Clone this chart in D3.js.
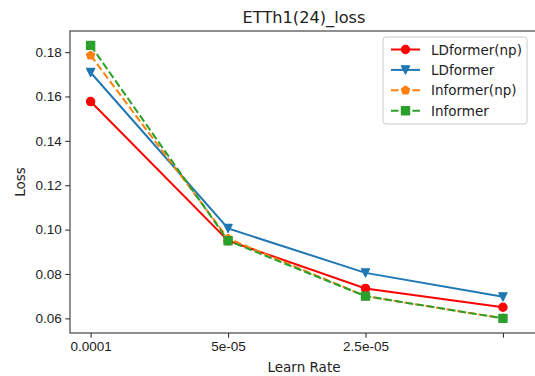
<!DOCTYPE html>
<html>
<head>
<meta charset="utf-8">
<script src="https://cdn.jsdelivr.net/npm/d3@7"></script>
<style>
  body { margin: 0; background: #fff; }
  svg { font-family: "DejaVu Sans", sans-serif; }
</style>
</head>
<body>
<svg id="chart" width="535" height="376"></svg>
<script>
// chart data
var learnRates = ["0.0001", "5e-05", "2.5e-05", ""];
var seriesNames = ["LDformer(np)", "LDformer", "Informer(np)", "Informer"];
var ldformerNp = [0.1577, 0.0950, 0.0735, 0.0650];
var ldformer = [0.1708, 0.1005, 0.0805, 0.0697];
var informerNp = [0.1785, 0.0960, 0.0700, 0.0600];
var informer = [0.1830, 0.0950, 0.0700, 0.0600];
var yTicks = [0.06, 0.08, 0.10, 0.12, 0.14, 0.16, 0.18];

var series = [
  {name: seriesNames[0], values: ldformerNp, color: "#ff0000", dash: null, marker: "circle"},
  {name: seriesNames[1], values: ldformer, color: "#1f77b4", dash: null, marker: "triangleDown"},
  {name: seriesNames[2], values: informerNp, color: "#ff7f0e", dash: "7.5,3.2", marker: "pentagon"},
  {name: seriesNames[3], values: informer, color: "#2ca02c", dash: "7.5,3.2", marker: "square"}
];

var svg = d3.select("#chart");
var plotLeft = 70, plotTop = 31, plotRight = 538, plotBottom = 333;
var fontSize = "13.5px";

// x positions are category indices with matplotlib-like margins
var x = d3.scaleLinear().domain([-0.15, 3.255]).range([plotLeft, plotRight]);
var y = d3.scaleLinear().domain([0.0534, 0.1895]).range([plotBottom, plotTop]);

// marker shapes, ~8px base plus a thin edge stroke like matplotlib
function markerPath(type) {
  var r = 4.05;
  if (type === "circle") return d3.symbol(d3.symbolCircle, Math.PI * r * r)();
  if (type === "square") return d3.symbol(d3.symbolSquare, 4 * r * r)();
  if (type === "triangleDown") return "M" + (-r) + "," + (-r) + "L" + r + "," + (-r) + "L0," + r + "Z";
  // pentagon
  var pts = d3.range(5).map(function(i) {
    var a = -Math.PI / 2 + i * 2 * Math.PI / 5;
    return [r * 1.05 * Math.cos(a), r * 1.05 * Math.sin(a)];
  });
  return "M" + pts.join("L") + "Z";
}

// x axis
var xAxis = d3.axisBottom(x)
  .tickValues(d3.range(learnRates.length))
  .tickFormat(function(i) { return learnRates[i]; })
  .tickSizeOuter(0).tickSize(4.7).tickPadding(4);
var gx = svg.append("g").attr("transform", "translate(0," + plotBottom + ")").call(xAxis);

// y axis
var yAxis = d3.axisLeft(y).tickValues(yTicks)
  .tickFormat(d3.format(".2f")).tickSizeOuter(0).tickSize(4.7).tickPadding(3.5);
var gy = svg.append("g").attr("transform", "translate(" + plotLeft + ",0)").call(yAxis);

[gx, gy].forEach(function(g) {
  g.select(".domain").remove();
  g.selectAll(".tick line").attr("stroke", "#333").attr("stroke-width", 1.1);
  g.selectAll(".tick text").attr("fill", "#222").style("font-size", fontSize);
});

// frame
svg.append("rect")
  .attr("x", plotLeft).attr("y", plotTop)
  .attr("width", plotRight - plotLeft).attr("height", plotBottom - plotTop)
  .attr("fill", "none").attr("stroke", "#333").attr("stroke-width", 1.1);

var plot = svg.append("g");

var line = d3.line()
  .x(function(d, i) { return x(i); })
  .y(function(d) { return y(d); });

series.forEach(function(s) {
  plot.append("path")
    .attr("d", line(s.values))
    .attr("fill", "none")
    .attr("stroke", s.color)
    .attr("stroke-width", 2)
    .attr("stroke-dasharray", s.dash);
  plot.selectAll(null)
    .data(s.values)
    .join("path")
    .attr("transform", function(d, i) { return "translate(" + x(i) + "," + y(d) + ")"; })
    .attr("d", markerPath(s.marker))
    .attr("fill", s.color)
    .attr("stroke", s.color)
    .attr("stroke-width", 1.3)
    .attr("stroke-linejoin", "round");
});

// title and axis labels
svg.append("text").attr("x", 304).attr("y", 23)
  .attr("text-anchor", "middle").style("font-size", "16.2px").attr("fill", "#222")
  .text("ETTh1(24)_loss");
svg.append("text").attr("x", 304).attr("y", 372)
  .attr("text-anchor", "middle").style("font-size", fontSize).attr("fill", "#222")
  .text("Learn Rate");
svg.append("text")
  .attr("transform", "translate(24.5,182) rotate(-90)")
  .attr("text-anchor", "middle").style("font-size", fontSize).attr("fill", "#222")
  .text("Loss");

// legend
var legend = svg.append("g");
legend.append("rect")
  .attr("x", 383).attr("y", 37).attr("width", 144).attr("height", 87)
  .attr("rx", 3).attr("fill", "#fff").attr("fill-opacity", 0.8)
  .attr("stroke", "#ccc").attr("stroke-width", 1);
series.forEach(function(s, i) {
  var ly = 49.5 + i * 20.4;
  legend.append("line")
    .attr("x1", 391).attr("x2", 420).attr("y1", ly).attr("y2", ly)
    .attr("stroke", s.color).attr("stroke-width", 2)
    .attr("stroke-dasharray", s.dash);
  legend.append("path")
    .attr("transform", "translate(405.5," + ly + ")")
    .attr("d", markerPath(s.marker)).attr("fill", s.color)
    .attr("stroke", s.color).attr("stroke-width", 1.3)
    .attr("stroke-linejoin", "round");
  legend.append("text")
    .attr("x", 431).attr("y", ly + 5)
    .style("font-size", fontSize).attr("fill", "#222")
    .text(s.name);
});
</script>
</body>
</html>
